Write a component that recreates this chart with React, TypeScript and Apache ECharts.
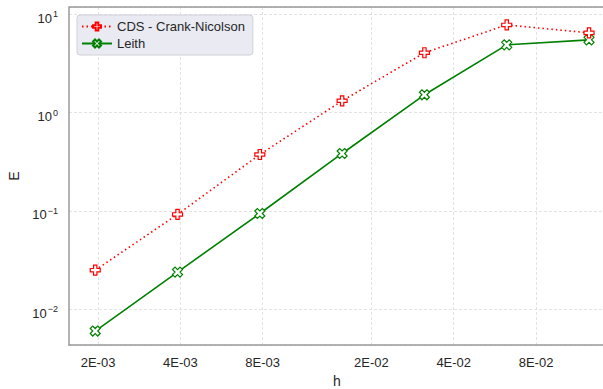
import React, { useEffect, useRef } from "react";
import * as echarts from "echarts";

const hValues = [1 / 512, 1 / 256, 1 / 128, 1 / 64, 1 / 32, 1 / 16, 1 / 8];
const cdsValues = [0.0249, 0.092, 0.375, 1.32, 4.07, 7.82, 6.49];
const leithValues = [0.00598, 0.0238, 0.094, 0.384, 1.52, 4.9, 5.51];
const xTickValues = [0.002, 0.004, 0.008, 0.02, 0.04, 0.08];
const seriesNames = ["CDS - Crank-Nicolson", "Leith"];

const PLUS = "path://M-1,-3L1,-3L1,-1L3,-1L3,1L1,1L1,3L-1,3L-1,1L-3,1L-3,-1L-1,-1Z";
const XMARK = "path://M2,-4L4,-2L2,0L4,2L2,4L0,2L-2,4L-4,2L-2,0L-4,-2L-2,-4L0,-2Z";

const FONT = "'Liberation Sans', Arial, sans-serif";
const TEXT = "#262626";

function fmtX(v: number): string {
  const e = Math.floor(Math.log10(v) + 1e-9);
  const m = Math.round(v / Math.pow(10, e));
  const es = Math.abs(e) < 10 ? "0" + Math.abs(e) : String(Math.abs(e));
  return `${m}E${e < 0 ? "-" : "+"}${es}`;
}

export default function App() {
  const ref = useRef<HTMLDivElement>(null);
  useEffect(() => {
    if (!ref.current) return;
    const chart = echarts.init(ref.current, undefined, { renderer: "svg" });
    chart.setOption({
      animation: false,
      backgroundColor: "#ffffff",
      textStyle: { fontFamily: FONT },
      grid: { left: 69, top: 7, right: -2, bottom: 44, containLabel: false, outerBoundsMode: "none" },
      legend: {
        left: 77,
        top: 15,
        orient: "vertical",
        backgroundColor: "#eaeaf2",
        borderColor: "#d0d0d8",
        borderWidth: 1,
        borderRadius: 3,
        padding: [5, 8, 5, 4],
        itemWidth: 30,
        itemHeight: 10,
        itemGap: 4,
        textStyle: { fontSize: 13, color: TEXT, fontFamily: FONT },
        data: seriesNames,
      },
      xAxis: {
        type: "log",
        logBase: 10,
        min: 0.001566,
        max: 0.143,
        name: "h",
        nameLocation: "middle",
        nameGap: 29,
        nameTextStyle: { fontSize: 14, color: TEXT, fontFamily: FONT },
        axisLine: { show: true, lineStyle: { color: "#999999", width: 1.5 } },
        axisTick: { show: false, customValues: xTickValues },
        axisLabel: {
          customValues: xTickValues,
          formatter: (v: number) => fmtX(v),
          fontSize: 13,
          color: TEXT,
          margin: 11,
          fontFamily: FONT,
        },
        splitLine: { show: true, lineStyle: { color: "#dcdcdc", type: [3, 2], width: 0.8 } },
        minorTick: { show: false },
      },
      yAxis: {
        type: "log",
        logBase: 10,
        min: 0.00431,
        max: 11.9,
        name: "E",
        nameLocation: "middle",
        nameGap: 44,
        nameTextStyle: { fontSize: 14, color: TEXT, fontFamily: FONT },
        axisLine: { show: true, lineStyle: { color: "#999999", width: 1.5 } },
        axisTick: { show: false },
        axisLabel: {
          showMinLabel: false,
          showMaxLabel: false,
          fontSize: 13,
          color: TEXT,
          margin: 11,
          fontFamily: FONT,
          padding: [8, 0, 0, 0],
          formatter: (v: number) => {
            const e = Math.round(Math.log10(v));
            const s = e < 0 ? "\u2212" + Math.abs(e) : String(e);
            return `10{sup|${s}}`;
          },
          rich: {
            sup: { fontSize: 9, color: TEXT, verticalAlign: "top", padding: [0, 0, 8, 1], fontFamily: FONT },
          },
        },
        splitLine: { show: true, lineStyle: { color: "#dcdcdc", type: [3, 2], width: 0.8 } },
      },
      graphic: [
        {
          type: "line",
          shape: { x1: 69, y1: 7, x2: 610, y2: 7 },
          style: { stroke: "#999999", lineWidth: 1.5 },
          z: 10,
        },
      ],
      series: [
        {
          name: seriesNames[0],
          type: "line",
          data: hValues.map((h, i) => [h, cdsValues[i]]),
          symbol: PLUS,
          symbolSize: 10,
          showAllSymbol: true,
          lineStyle: { color: "#ff0000", width: 1.6, type: [1.5, 3] },
          itemStyle: { color: "#ffffff", borderColor: "#ff0000", borderWidth: 1.2 },
          z: 3,
        },
        {
          name: seriesNames[1],
          type: "line",
          data: hValues.map((h, i) => [h, leithValues[i]]),
          symbol: XMARK,
          symbolSize: 10,
          showAllSymbol: true,
          lineStyle: { color: "#008000", width: 1.6, type: "solid" },
          itemStyle: { color: "#ffffff", borderColor: "#008000", borderWidth: 1.2 },
          z: 2,
        },
      ],
    });
    return () => chart.dispose();
  }, []);
  return <div ref={ref} style={{ width: 603, height: 389, position: "absolute", left: 0, top: 0 }} />;
}
